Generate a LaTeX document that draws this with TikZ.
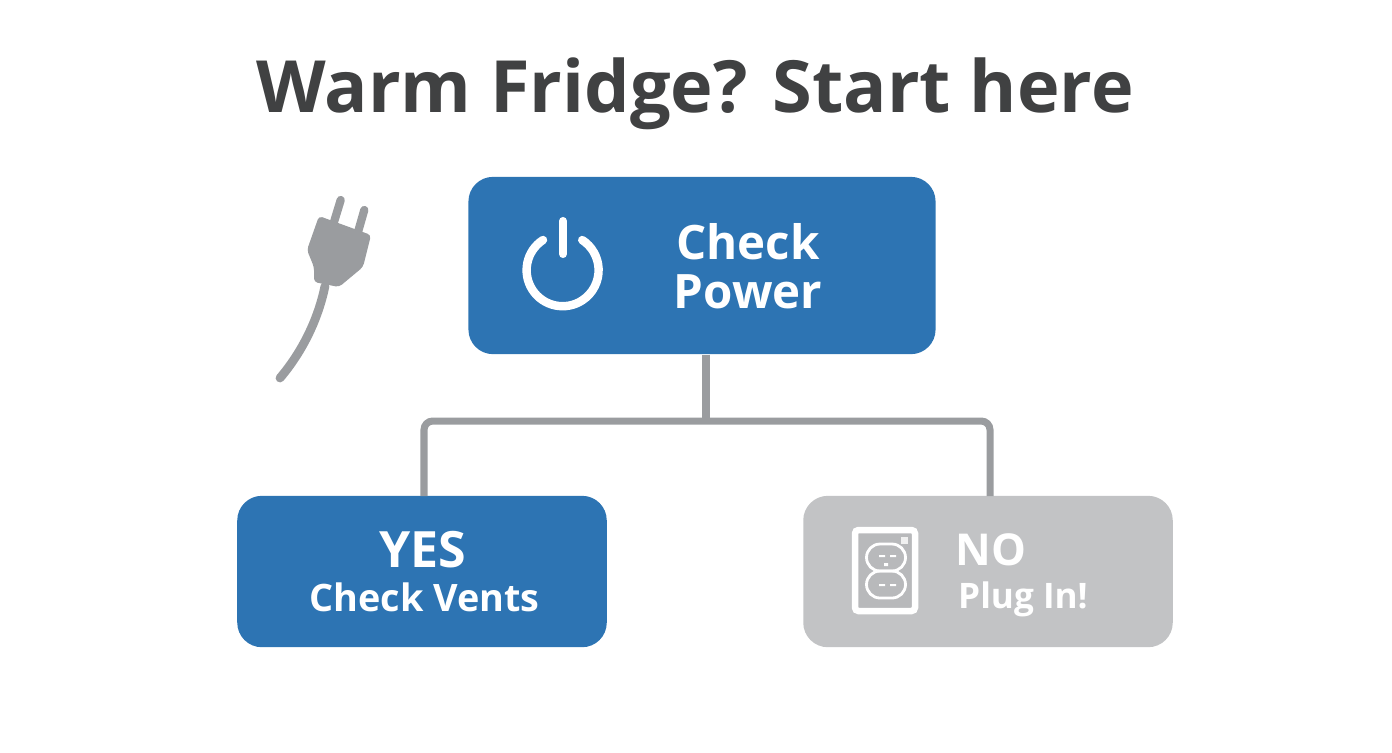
\documentclass[tikz,border=0pt]{standalone}
\usepackage{fontspec}
\setmainfont{Open Sans}
\usepackage{tikz}
\usetikzlibrary{positioning,calc}
\definecolor{boxblue}{HTML}{2D74B3}
\definecolor{boxgrey}{HTML}{C2C3C5}
\definecolor{wiregrey}{HTML}{9A9C9F}
\definecolor{titlegrey}{HTML}{404142}
\tikzset{
  box/.style={rounded corners=14pt,minimum width=#1*0.5669pt,inner sep=0pt,text=white},
  label/.style={text=white,font=\bfseries,inner sep=0pt,align=center},
  wire/.style={wiregrey,line width=4pt},
  icon/.style={white,line cap=round},
}
\begin{document}
\begin{tikzpicture}[x=0.02cm,y=-0.02cm]
\useasboundingbox (0,0) rectangle (1392,752);
%Titel
\node[text=titlegrey,font=\fontsize{41}{50}\selectfont\bfseries,inner sep=0pt] (title) at (695,94) {Warm Fridge? Start here};
%Kästen
\node[box=469,minimum height=178*0.5669pt,fill=boxblue] (power) at (702,265.5) {};
\node[box=371,minimum height=152*0.5669pt,fill=boxblue] (yes) at (422,571.5) {};
\node[box=371,minimum height=152*0.5669pt,fill=boxgrey] (no) at (988,571.5) {};
%Texte
\node[label,font=\fontsize{27}{29}\selectfont\bfseries] (powertext) at (748,266) {Check\\[-1pt]Power};
\node[label,font=\fontsize{28.5}{30}\selectfont\bfseries] (yestext) at (423,550) {YES};
\node[label,font=\fontsize{21.5}{24}\selectfont\bfseries] (ventstext) at (424.5,597) {Check Vents};
\node[label,font=\fontsize{25}{30}\selectfont\bfseries] (notext) at (991,550) {NO};
\node[label,font=\fontsize{20}{24}\selectfont\bfseries] (plugtext) at (1023,599) {Plug In!};
%Leitungen
\coordinate (tap) at (706,421);
\coordinate (yesend) at (424,496);
\coordinate (noend) at (990,496);
\draw[wire] (power.south -| tap) -- (tap);
\draw[wire,rounded corners=5pt] (yesend) |- (tap) -| (noend);
%Netzschalter
\draw[icon,line width=4.6pt] (563,221) -- (563,254);
\draw[icon,line width=4.8pt] (543,240) arc (237:-57:36);
%Stecker
\draw[wiregrey,line width=4.7pt,line cap=round] (340.7,200) -- (334,222);
\draw[wiregrey,line width=4.7pt,line cap=round] (364.3,210) -- (358,232);
\fill[wiregrey,rounded corners=2pt] (319,216) -- (371,235) -- (363,267) -- (339,287) -- (314,282) -- (314,267) -- (307,250) -- cycle;
\draw[wiregrey,line width=5pt,line cap=round] (325,286) .. controls (318,320) and (302,352) .. (280,378);
%Steckdose
\fill[boxgrey!95!black] (855,530) rectangle (915,611);
\draw[white,line width=3.7pt,rounded corners=2pt] (855,530) rectangle (915,611);
\fill[white!75!boxgrey] (901,537) rectangle (908,544);
\draw[white,line width=1.6pt] (880,544) -- (892,544) arc (-90:90:13.5) -- (880,571) arc (90:270:13.5) -- cycle;
\draw[white,line width=1.6pt] (880,571) -- (892,571) arc (-90:90:13.5) -- (880,598) arc (90:270:13.5) -- cycle;
\fill[white] (879,555) rectangle (885,557) (890,555) rectangle (896,557) (884,563) rectangle (888,566);
\fill[white] (879,584) rectangle (885,586) (890,584) rectangle (896,586);
\end{tikzpicture}
\end{document}
